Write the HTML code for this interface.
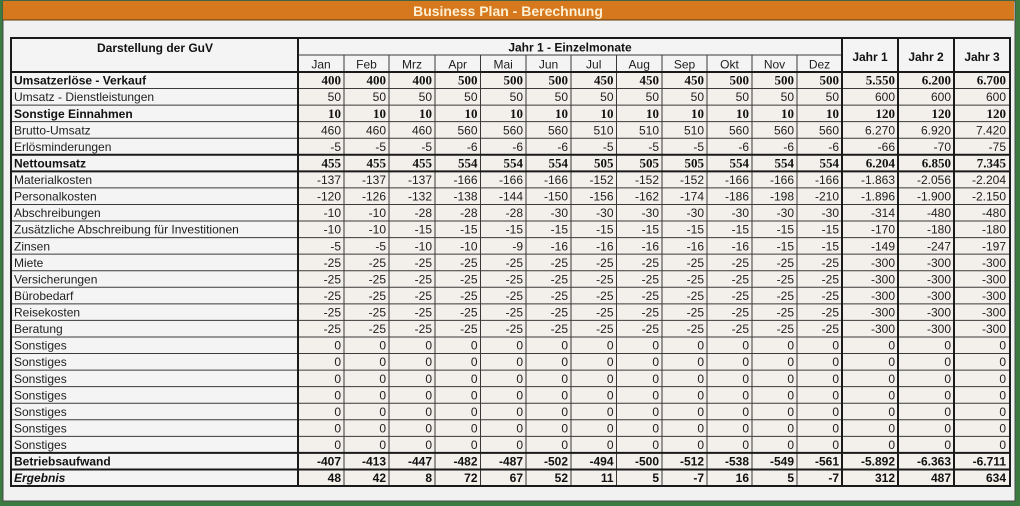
<!DOCTYPE html>
<html><head><meta charset="utf-8"><style>
html,body{margin:0;padding:0;width:1020px;height:506px;overflow:hidden;background:#3b7a40}
svg{display:block}
text{font-family:"Liberation Sans",Arial,sans-serif;font-size:12px;fill:#1e1e1e;text-anchor:end}
.l{text-anchor:start}
.c{text-anchor:middle}
.b{font-weight:bold;fill:#111}
.s{font-family:"Liberation Serif","Times New Roman",serif;font-weight:bold;font-size:13px;fill:#111}
.i{font-style:italic;font-weight:bold;fill:#111}
</style></head><body>
<svg width="1020" height="506" viewBox="0 0 1020 506" xmlns="http://www.w3.org/2000/svg">
<rect x="0" y="0" width="1020" height="506" fill="#3b7a40"/>
<rect x="3" y="1" width="1012" height="500" fill="#f2f1f1" stroke="#4a4a4a" stroke-width="1"/>
<rect x="3" y="1" width="1011" height="19" fill="#d6781d"/>
<line x1="3" y1="20" x2="1014" y2="20" stroke="#5a3a10" stroke-width="1"/>
<text x="508" y="16" class="c" style="font-size:14px;font-weight:bold;fill:#fdf0d2">Business Plan - Berechnung</text>

<!-- cell backgrounds -->
<rect x="11" y="38" width="999" height="448" fill="#f4f4f4"/>
<rect x="298" y="72" width="712" height="414" fill="#f3efeb"/>

<!-- horizontal thin lines -->
<g stroke="#3a3a3a" stroke-width="1">
<line x1="298" y1="55" x2="842" y2="55"/>
<line x1="11" y1="88.56" x2="1010" y2="88.56"/>
<line x1="11" y1="105.12" x2="1010" y2="105.12"/>
<line x1="11" y1="121.68" x2="1010" y2="121.68"/>
<line x1="11" y1="138.24" x2="1010" y2="138.24"/>
<line x1="11" y1="187.92" x2="1010" y2="187.92"/>
<line x1="11" y1="204.48" x2="1010" y2="204.48"/>
<line x1="11" y1="221.04" x2="1010" y2="221.04"/>
<line x1="11" y1="237.6" x2="1010" y2="237.6"/>
<line x1="11" y1="254.16" x2="1010" y2="254.16"/>
<line x1="11" y1="270.72" x2="1010" y2="270.72"/>
<line x1="11" y1="287.28" x2="1010" y2="287.28"/>
<line x1="11" y1="303.84" x2="1010" y2="303.84"/>
<line x1="11" y1="320.4" x2="1010" y2="320.4"/>
<line x1="11" y1="336.96" x2="1010" y2="336.96"/>
<line x1="11" y1="353.52" x2="1010" y2="353.52"/>
<line x1="11" y1="370.08" x2="1010" y2="370.08"/>
<line x1="11" y1="386.64" x2="1010" y2="386.64"/>
<line x1="11" y1="403.2" x2="1010" y2="403.2"/>
<line x1="11" y1="419.76" x2="1010" y2="419.76"/>
<line x1="11" y1="436.32" x2="1010" y2="436.32"/>
<!-- vertical thin month dividers -->
<line x1="344" y1="55" x2="344" y2="486"/>
<line x1="389" y1="55" x2="389" y2="486"/>
<line x1="435" y1="55" x2="435" y2="486"/>
<line x1="480.5" y1="55" x2="480.5" y2="486"/>
<line x1="526" y1="55" x2="526" y2="486"/>
<line x1="571" y1="55" x2="571" y2="486"/>
<line x1="616.5" y1="55" x2="616.5" y2="486"/>
<line x1="662" y1="55" x2="662" y2="486"/>
<line x1="707" y1="55" x2="707" y2="486"/>
<line x1="752" y1="55" x2="752" y2="486"/>
<line x1="797" y1="55" x2="797" y2="486"/>
</g>
<!-- thick lines -->
<g stroke="#1a1a1a" stroke-width="2">
<line x1="10" y1="38" x2="1011" y2="38"/>
<line x1="10" y1="72" x2="1011" y2="72"/>
<line x1="10" y1="154.8" x2="1011" y2="154.8"/>
<line x1="10" y1="171.36" x2="1011" y2="171.36"/>
<line x1="10" y1="452.88" x2="1011" y2="452.88"/>
<line x1="10" y1="469.44" x2="1011" y2="469.44"/>
<line x1="10" y1="486" x2="1011" y2="486"/>
<line x1="11" y1="38" x2="11" y2="486"/>
<line x1="298" y1="38" x2="298" y2="486"/>
<line x1="842" y1="38" x2="842" y2="486"/>
<line x1="898" y1="38" x2="898" y2="486"/>
<line x1="954" y1="38" x2="954" y2="486"/>
<line x1="1010" y1="38" x2="1010" y2="486"/>
</g>

<!-- header -->
<text x="155" y="52" class="c b">Darstellung der GuV</text>
<text x="570" y="51.5" class="c b">Jahr 1 - Einzelmonate</text>
<text x="870" y="61" class="c b">Jahr 1</text>
<text x="926" y="61" class="c b">Jahr 2</text>
<text x="982" y="61" class="c b">Jahr 3</text>
<g>
<text x="321" y="68.5" class="c">Jan</text>
<text x="366.5" y="68.5" class="c">Feb</text>
<text x="412" y="68.5" class="c">Mrz</text>
<text x="457.7" y="68.5" class="c">Apr</text>
<text x="503.2" y="68.5" class="c">Mai</text>
<text x="548.5" y="68.5" class="c">Jun</text>
<text x="593.7" y="68.5" class="c">Jul</text>
<text x="639.2" y="68.5" class="c">Aug</text>
<text x="684.5" y="68.5" class="c">Sep</text>
<text x="729.5" y="68.5" class="c">Okt</text>
<text x="774.5" y="68.5" class="c">Nov</text>
<text x="819.5" y="68.5" class="c">Dez</text>
</g>

<!-- row 1 -->
<g transform="translate(0,72)">
<text x="14" y="12.7" class="l b">Umsatzerlöse - Verkauf</text>
<text x="341" y="12.7" class="s">400</text><text x="386" y="12.7" class="s">400</text><text x="432" y="12.7" class="s">400</text><text x="477.5" y="12.7" class="s">500</text><text x="523" y="12.7" class="s">500</text><text x="568" y="12.7" class="s">500</text><text x="613.5" y="12.7" class="s">450</text><text x="659" y="12.7" class="s">450</text><text x="704" y="12.7" class="s">450</text><text x="749" y="12.7" class="s">500</text><text x="794" y="12.7" class="s">500</text><text x="839" y="12.7" class="s">500</text><text x="895" y="12.7" class="s">5.550</text><text x="951" y="12.7" class="s">6.200</text><text x="1006" y="12.7" class="s">6.700</text>
</g>
<!-- row 2 -->
<g transform="translate(0,88.56)">
<text x="14" y="12.7" class="l">Umsatz - Dienstleistungen</text>
<text x="341" y="12.7">50</text><text x="386" y="12.7">50</text><text x="432" y="12.7">50</text><text x="477.5" y="12.7">50</text><text x="523" y="12.7">50</text><text x="568" y="12.7">50</text><text x="613.5" y="12.7">50</text><text x="659" y="12.7">50</text><text x="704" y="12.7">50</text><text x="749" y="12.7">50</text><text x="794" y="12.7">50</text><text x="839" y="12.7">50</text><text x="895" y="12.7">600</text><text x="951" y="12.7">600</text><text x="1006" y="12.7">600</text>
</g>
<!-- row 3 -->
<g transform="translate(0,105.12)">
<text x="14" y="12.7" class="l b">Sonstige Einnahmen</text>
<text x="341" y="12.7" class="s">10</text><text x="386" y="12.7" class="s">10</text><text x="432" y="12.7" class="s">10</text><text x="477.5" y="12.7" class="s">10</text><text x="523" y="12.7" class="s">10</text><text x="568" y="12.7" class="s">10</text><text x="613.5" y="12.7" class="s">10</text><text x="659" y="12.7" class="s">10</text><text x="704" y="12.7" class="s">10</text><text x="749" y="12.7" class="s">10</text><text x="794" y="12.7" class="s">10</text><text x="839" y="12.7" class="s">10</text><text x="895" y="12.7" class="s">120</text><text x="951" y="12.7" class="s">120</text><text x="1006" y="12.7" class="s">120</text>
</g>
<!-- row 4 -->
<g transform="translate(0,121.68)">
<text x="14" y="12.7" class="l">Brutto-Umsatz</text>
<text x="341" y="12.7">460</text><text x="386" y="12.7">460</text><text x="432" y="12.7">460</text><text x="477.5" y="12.7">560</text><text x="523" y="12.7">560</text><text x="568" y="12.7">560</text><text x="613.5" y="12.7">510</text><text x="659" y="12.7">510</text><text x="704" y="12.7">510</text><text x="749" y="12.7">560</text><text x="794" y="12.7">560</text><text x="839" y="12.7">560</text><text x="895" y="12.7">6.270</text><text x="951" y="12.7">6.920</text><text x="1006" y="12.7">7.420</text>
</g>
<!-- row 5 -->
<g transform="translate(0,138.24)">
<text x="14" y="12.7" class="l">Erlösminderungen</text>
<text x="341" y="12.7">-5</text><text x="386" y="12.7">-5</text><text x="432" y="12.7">-5</text><text x="477.5" y="12.7">-6</text><text x="523" y="12.7">-6</text><text x="568" y="12.7">-6</text><text x="613.5" y="12.7">-5</text><text x="659" y="12.7">-5</text><text x="704" y="12.7">-5</text><text x="749" y="12.7">-6</text><text x="794" y="12.7">-6</text><text x="839" y="12.7">-6</text><text x="895" y="12.7">-66</text><text x="951" y="12.7">-70</text><text x="1006" y="12.7">-75</text>
</g>
<!-- row 6 -->
<g transform="translate(0,154.8)">
<text x="14" y="12.7" class="l b">Nettoumsatz</text>
<text x="341" y="12.7" class="s">455</text><text x="386" y="12.7" class="s">455</text><text x="432" y="12.7" class="s">455</text><text x="477.5" y="12.7" class="s">554</text><text x="523" y="12.7" class="s">554</text><text x="568" y="12.7" class="s">554</text><text x="613.5" y="12.7" class="s">505</text><text x="659" y="12.7" class="s">505</text><text x="704" y="12.7" class="s">505</text><text x="749" y="12.7" class="s">554</text><text x="794" y="12.7" class="s">554</text><text x="839" y="12.7" class="s">554</text><text x="895" y="12.7" class="s">6.204</text><text x="951" y="12.7" class="s">6.850</text><text x="1006" y="12.7" class="s">7.345</text>
</g>
<!-- row 7 -->
<g transform="translate(0,171.36)">
<text x="14" y="12.7" class="l">Materialkosten</text>
<text x="341" y="12.7">-137</text><text x="386" y="12.7">-137</text><text x="432" y="12.7">-137</text><text x="477.5" y="12.7">-166</text><text x="523" y="12.7">-166</text><text x="568" y="12.7">-166</text><text x="613.5" y="12.7">-152</text><text x="659" y="12.7">-152</text><text x="704" y="12.7">-152</text><text x="749" y="12.7">-166</text><text x="794" y="12.7">-166</text><text x="839" y="12.7">-166</text><text x="895" y="12.7">-1.863</text><text x="951" y="12.7">-2.056</text><text x="1006" y="12.7">-2.204</text>
</g>
<!-- row 8 -->
<g transform="translate(0,187.92)">
<text x="14" y="12.7" class="l">Personalkosten</text>
<text x="341" y="12.7">-120</text><text x="386" y="12.7">-126</text><text x="432" y="12.7">-132</text><text x="477.5" y="12.7">-138</text><text x="523" y="12.7">-144</text><text x="568" y="12.7">-150</text><text x="613.5" y="12.7">-156</text><text x="659" y="12.7">-162</text><text x="704" y="12.7">-174</text><text x="749" y="12.7">-186</text><text x="794" y="12.7">-198</text><text x="839" y="12.7">-210</text><text x="895" y="12.7">-1.896</text><text x="951" y="12.7">-1.900</text><text x="1006" y="12.7">-2.150</text>
</g>
<!-- row 9 -->
<g transform="translate(0,204.48)">
<text x="14" y="12.7" class="l">Abschreibungen</text>
<text x="341" y="12.7">-10</text><text x="386" y="12.7">-10</text><text x="432" y="12.7">-28</text><text x="477.5" y="12.7">-28</text><text x="523" y="12.7">-28</text><text x="568" y="12.7">-30</text><text x="613.5" y="12.7">-30</text><text x="659" y="12.7">-30</text><text x="704" y="12.7">-30</text><text x="749" y="12.7">-30</text><text x="794" y="12.7">-30</text><text x="839" y="12.7">-30</text><text x="895" y="12.7">-314</text><text x="951" y="12.7">-480</text><text x="1006" y="12.7">-480</text>
</g>
<!-- row 10 -->
<g transform="translate(0,221.04)">
<text x="14" y="12.7" class="l">Zusätzliche Abschreibung für Investitionen</text>
<text x="341" y="12.7">-10</text><text x="386" y="12.7">-10</text><text x="432" y="12.7">-15</text><text x="477.5" y="12.7">-15</text><text x="523" y="12.7">-15</text><text x="568" y="12.7">-15</text><text x="613.5" y="12.7">-15</text><text x="659" y="12.7">-15</text><text x="704" y="12.7">-15</text><text x="749" y="12.7">-15</text><text x="794" y="12.7">-15</text><text x="839" y="12.7">-15</text><text x="895" y="12.7">-170</text><text x="951" y="12.7">-180</text><text x="1006" y="12.7">-180</text>
</g>
<!-- row 11 -->
<g transform="translate(0,237.6)">
<text x="14" y="12.7" class="l">Zinsen</text>
<text x="341" y="12.7">-5</text><text x="386" y="12.7">-5</text><text x="432" y="12.7">-10</text><text x="477.5" y="12.7">-10</text><text x="523" y="12.7">-9</text><text x="568" y="12.7">-16</text><text x="613.5" y="12.7">-16</text><text x="659" y="12.7">-16</text><text x="704" y="12.7">-16</text><text x="749" y="12.7">-16</text><text x="794" y="12.7">-15</text><text x="839" y="12.7">-15</text><text x="895" y="12.7">-149</text><text x="951" y="12.7">-247</text><text x="1006" y="12.7">-197</text>
</g>
<!-- rows 12-16 -->
<g transform="translate(0,254.16)">
<text x="14" y="12.7" class="l">Miete</text>
<text x="341" y="12.7">-25</text><text x="386" y="12.7">-25</text><text x="432" y="12.7">-25</text><text x="477.5" y="12.7">-25</text><text x="523" y="12.7">-25</text><text x="568" y="12.7">-25</text><text x="613.5" y="12.7">-25</text><text x="659" y="12.7">-25</text><text x="704" y="12.7">-25</text><text x="749" y="12.7">-25</text><text x="794" y="12.7">-25</text><text x="839" y="12.7">-25</text><text x="895" y="12.7">-300</text><text x="951" y="12.7">-300</text><text x="1006" y="12.7">-300</text>
</g>
<g transform="translate(0,270.72)">
<text x="14" y="12.7" class="l">Versicherungen</text>
<text x="341" y="12.7">-25</text><text x="386" y="12.7">-25</text><text x="432" y="12.7">-25</text><text x="477.5" y="12.7">-25</text><text x="523" y="12.7">-25</text><text x="568" y="12.7">-25</text><text x="613.5" y="12.7">-25</text><text x="659" y="12.7">-25</text><text x="704" y="12.7">-25</text><text x="749" y="12.7">-25</text><text x="794" y="12.7">-25</text><text x="839" y="12.7">-25</text><text x="895" y="12.7">-300</text><text x="951" y="12.7">-300</text><text x="1006" y="12.7">-300</text>
</g>
<g transform="translate(0,287.28)">
<text x="14" y="12.7" class="l">Bürobedarf</text>
<text x="341" y="12.7">-25</text><text x="386" y="12.7">-25</text><text x="432" y="12.7">-25</text><text x="477.5" y="12.7">-25</text><text x="523" y="12.7">-25</text><text x="568" y="12.7">-25</text><text x="613.5" y="12.7">-25</text><text x="659" y="12.7">-25</text><text x="704" y="12.7">-25</text><text x="749" y="12.7">-25</text><text x="794" y="12.7">-25</text><text x="839" y="12.7">-25</text><text x="895" y="12.7">-300</text><text x="951" y="12.7">-300</text><text x="1006" y="12.7">-300</text>
</g>
<g transform="translate(0,303.84)">
<text x="14" y="12.7" class="l">Reisekosten</text>
<text x="341" y="12.7">-25</text><text x="386" y="12.7">-25</text><text x="432" y="12.7">-25</text><text x="477.5" y="12.7">-25</text><text x="523" y="12.7">-25</text><text x="568" y="12.7">-25</text><text x="613.5" y="12.7">-25</text><text x="659" y="12.7">-25</text><text x="704" y="12.7">-25</text><text x="749" y="12.7">-25</text><text x="794" y="12.7">-25</text><text x="839" y="12.7">-25</text><text x="895" y="12.7">-300</text><text x="951" y="12.7">-300</text><text x="1006" y="12.7">-300</text>
</g>
<g transform="translate(0,320.4)">
<text x="14" y="12.7" class="l">Beratung</text>
<text x="341" y="12.7">-25</text><text x="386" y="12.7">-25</text><text x="432" y="12.7">-25</text><text x="477.5" y="12.7">-25</text><text x="523" y="12.7">-25</text><text x="568" y="12.7">-25</text><text x="613.5" y="12.7">-25</text><text x="659" y="12.7">-25</text><text x="704" y="12.7">-25</text><text x="749" y="12.7">-25</text><text x="794" y="12.7">-25</text><text x="839" y="12.7">-25</text><text x="895" y="12.7">-300</text><text x="951" y="12.7">-300</text><text x="1006" y="12.7">-300</text>
</g>
<!-- Sonstiges x7 -->
<g transform="translate(0,336.96)">
<text x="14" y="12.7" class="l">Sonstiges</text>
<text x="341" y="12.7">0</text><text x="386" y="12.7">0</text><text x="432" y="12.7">0</text><text x="477.5" y="12.7">0</text><text x="523" y="12.7">0</text><text x="568" y="12.7">0</text><text x="613.5" y="12.7">0</text><text x="659" y="12.7">0</text><text x="704" y="12.7">0</text><text x="749" y="12.7">0</text><text x="794" y="12.7">0</text><text x="839" y="12.7">0</text><text x="895" y="12.7">0</text><text x="951" y="12.7">0</text><text x="1006" y="12.7">0</text>
</g>
<g transform="translate(0,353.52)">
<text x="14" y="12.7" class="l">Sonstiges</text>
<text x="341" y="12.7">0</text><text x="386" y="12.7">0</text><text x="432" y="12.7">0</text><text x="477.5" y="12.7">0</text><text x="523" y="12.7">0</text><text x="568" y="12.7">0</text><text x="613.5" y="12.7">0</text><text x="659" y="12.7">0</text><text x="704" y="12.7">0</text><text x="749" y="12.7">0</text><text x="794" y="12.7">0</text><text x="839" y="12.7">0</text><text x="895" y="12.7">0</text><text x="951" y="12.7">0</text><text x="1006" y="12.7">0</text>
</g>
<g transform="translate(0,370.08)">
<text x="14" y="12.7" class="l">Sonstiges</text>
<text x="341" y="12.7">0</text><text x="386" y="12.7">0</text><text x="432" y="12.7">0</text><text x="477.5" y="12.7">0</text><text x="523" y="12.7">0</text><text x="568" y="12.7">0</text><text x="613.5" y="12.7">0</text><text x="659" y="12.7">0</text><text x="704" y="12.7">0</text><text x="749" y="12.7">0</text><text x="794" y="12.7">0</text><text x="839" y="12.7">0</text><text x="895" y="12.7">0</text><text x="951" y="12.7">0</text><text x="1006" y="12.7">0</text>
</g>
<g transform="translate(0,386.64)">
<text x="14" y="12.7" class="l">Sonstiges</text>
<text x="341" y="12.7">0</text><text x="386" y="12.7">0</text><text x="432" y="12.7">0</text><text x="477.5" y="12.7">0</text><text x="523" y="12.7">0</text><text x="568" y="12.7">0</text><text x="613.5" y="12.7">0</text><text x="659" y="12.7">0</text><text x="704" y="12.7">0</text><text x="749" y="12.7">0</text><text x="794" y="12.7">0</text><text x="839" y="12.7">0</text><text x="895" y="12.7">0</text><text x="951" y="12.7">0</text><text x="1006" y="12.7">0</text>
</g>
<g transform="translate(0,403.2)">
<text x="14" y="12.7" class="l">Sonstiges</text>
<text x="341" y="12.7">0</text><text x="386" y="12.7">0</text><text x="432" y="12.7">0</text><text x="477.5" y="12.7">0</text><text x="523" y="12.7">0</text><text x="568" y="12.7">0</text><text x="613.5" y="12.7">0</text><text x="659" y="12.7">0</text><text x="704" y="12.7">0</text><text x="749" y="12.7">0</text><text x="794" y="12.7">0</text><text x="839" y="12.7">0</text><text x="895" y="12.7">0</text><text x="951" y="12.7">0</text><text x="1006" y="12.7">0</text>
</g>
<g transform="translate(0,419.76)">
<text x="14" y="12.7" class="l">Sonstiges</text>
<text x="341" y="12.7">0</text><text x="386" y="12.7">0</text><text x="432" y="12.7">0</text><text x="477.5" y="12.7">0</text><text x="523" y="12.7">0</text><text x="568" y="12.7">0</text><text x="613.5" y="12.7">0</text><text x="659" y="12.7">0</text><text x="704" y="12.7">0</text><text x="749" y="12.7">0</text><text x="794" y="12.7">0</text><text x="839" y="12.7">0</text><text x="895" y="12.7">0</text><text x="951" y="12.7">0</text><text x="1006" y="12.7">0</text>
</g>
<g transform="translate(0,436.32)">
<text x="14" y="12.7" class="l">Sonstiges</text>
<text x="341" y="12.7">0</text><text x="386" y="12.7">0</text><text x="432" y="12.7">0</text><text x="477.5" y="12.7">0</text><text x="523" y="12.7">0</text><text x="568" y="12.7">0</text><text x="613.5" y="12.7">0</text><text x="659" y="12.7">0</text><text x="704" y="12.7">0</text><text x="749" y="12.7">0</text><text x="794" y="12.7">0</text><text x="839" y="12.7">0</text><text x="895" y="12.7">0</text><text x="951" y="12.7">0</text><text x="1006" y="12.7">0</text>
</g>
<!-- Betriebsaufwand -->
<g transform="translate(0,452.88)">
<text x="14" y="12.7" class="l b">Betriebsaufwand</text>
<text x="341" y="12.7" class="b">-407</text><text x="386" y="12.7" class="b">-413</text><text x="432" y="12.7" class="b">-447</text><text x="477.5" y="12.7" class="b">-482</text><text x="523" y="12.7" class="b">-487</text><text x="568" y="12.7" class="b">-502</text><text x="613.5" y="12.7" class="b">-494</text><text x="659" y="12.7" class="b">-500</text><text x="704" y="12.7" class="b">-512</text><text x="749" y="12.7" class="b">-538</text><text x="794" y="12.7" class="b">-549</text><text x="839" y="12.7" class="b">-561</text><text x="895" y="12.7" class="b">-5.892</text><text x="951" y="12.7" class="b">-6.363</text><text x="1006" y="12.7" class="b">-6.711</text>
</g>
<!-- Ergebnis -->
<g transform="translate(0,469.44)">
<text x="14" y="12.7" class="l i">Ergebnis</text>
<text x="341" y="12.7" class="b">48</text><text x="386" y="12.7" class="b">42</text><text x="432" y="12.7" class="b">8</text><text x="477.5" y="12.7" class="b">72</text><text x="523" y="12.7" class="b">67</text><text x="568" y="12.7" class="b">52</text><text x="613.5" y="12.7" class="b">11</text><text x="659" y="12.7" class="b">5</text><text x="704" y="12.7" class="b">-7</text><text x="749" y="12.7" class="b">16</text><text x="794" y="12.7" class="b">5</text><text x="839" y="12.7" class="b">-7</text><text x="895" y="12.7" class="b">312</text><text x="951" y="12.7" class="b">487</text><text x="1006" y="12.7" class="b">634</text>
</g>
</svg>
</body></html>
